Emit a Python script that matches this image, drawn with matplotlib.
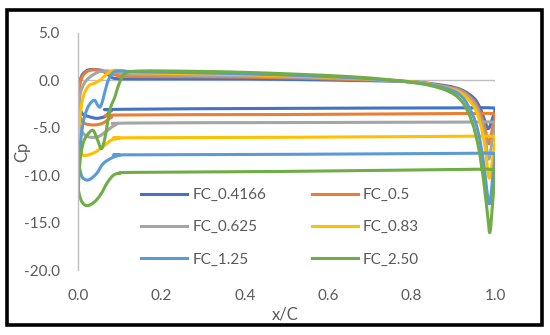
import matplotlib
matplotlib.use("Agg")
from matplotlib import pyplot as plt
from matplotlib.patches import Rectangle, PathPatch
from matplotlib.path import Path
from matplotlib.lines import Line2D
import numpy as np

# Cp distributions, each traced as one closed loop (upper surface LE -> TE, lower surface TE -> LE)
x_fc04166 = [0.002, 0.005, 0.012, 0.025, 0.04, 0.06, 0.075, 0.09, 0.15, 0.4, 0.65, 0.8, 0.88, 0.92,
             0.95, 0.965, 0.975, 0.984, 0.994, 1.0, 0.993, 0.9, 0.5, 0.1, 0.08, 0.065, 0.045, 0.025,
             0.01, 0.004, 0.002]
cp_fc04166 = [-1.0, 0.0, 0.7, 1.1, 1.15, 1.0, 0.5, 0.2, 0.15, 0.15, 0.0, -0.15, -0.55, -1.0,
              -1.9, -3.0, -4.2, -5.1, -4.0, -3.1, -2.9, -2.9, -2.95, -3.05, -3.2, -3.8, -4.0, -3.8,
              -3.5, -2.6, -1.0]

x_fc05 = [0.001, 0.004, 0.012, 0.025, 0.045, 0.07, 0.1, 0.15, 0.4, 0.65, 0.8, 0.88, 0.92, 0.95,
          0.965, 0.976, 0.985, 0.994, 1.0, 0.993, 0.9, 0.5, 0.1, 0.08, 0.06, 0.04, 0.02, 0.01,
          0.003, 0.001]
cp_fc05 = [-2.0, -0.5, 0.5, 1.0, 1.1, 0.8, 0.5, 0.4, 0.35, 0.1, -0.15, -0.65, -1.1, -2.2,
           -3.5, -5.0, -6.7, -5.0, -3.8, -3.5, -3.5, -3.6, -3.65, -3.9, -4.5, -4.7, -4.6, -4.3,
           -3.5, -2.0]

x_fc0625 = [0.001, 0.005, 0.015, 0.03, 0.05, 0.07, 0.1, 0.15, 0.4, 0.65, 0.8, 0.88, 0.92, 0.95,
            0.965, 0.976, 0.985, 0.994, 1.0, 0.993, 0.9, 0.5, 0.12, 0.09, 0.07, 0.05, 0.03, 0.015,
            0.005, 0.001]
cp_fc0625 = [-3.5, -1.5, -0.3, 0.4, 0.9, 1.0, 0.8, 0.6, 0.45, 0.2, -0.15, -0.7, -1.2, -2.4,
             -4.0, -6.0, -8.3, -6.2, -4.7, -4.4, -4.4, -4.45, -4.5, -4.7, -5.3, -5.9, -6.0, -5.7,
             -5.0, -3.5]

x_fc083 = [0.001, 0.004, 0.012, 0.025, 0.04, 0.055, 0.07, 0.085, 0.11, 0.15, 0.4, 0.65, 0.8,
           0.88, 0.92, 0.95, 0.965, 0.976, 0.986, 0.995, 1.0, 0.993, 0.9, 0.5, 0.12, 0.1, 0.08,
           0.06, 0.04, 0.02, 0.01, 0.004, 0.001]
cp_fc083 = [-5.5, -4.0, -1.8, -0.6, -0.3, 0.1, 0.7, 1.05, 1.0, 0.8, 0.6, 0.25, -0.15,
            -0.75, -1.4, -2.8, -4.6, -7.0, -10.3, -8.0, -6.2, -5.9, -5.9, -6.0, -6.05, -6.1, -6.3,
            -7.0, -7.6, -7.9, -7.8, -7.0, -5.5]

x_fc125 = [0.001, 0.005, 0.012, 0.022, 0.032, 0.04, 0.047, 0.053, 0.06, 0.07, 0.08, 0.095, 0.15,
           0.4, 0.65, 0.8, 0.88, 0.92, 0.945, 0.96, 0.972, 0.986, 0.995, 1.0, 0.993, 0.9, 0.5,
           0.12, 0.1, 0.08, 0.06, 0.045, 0.03, 0.02, 0.01, 0.004, 0.001]
cp_fc125 = [-8.5, -7.0, -4.5, -3.0, -2.3, -2.1, -2.6, -2.8, -2.0, -0.3, 0.6, 1.0, 0.9,
            0.7, 0.3, -0.2, -0.8, -1.7, -3.5, -5.5, -8.5, -13.0, -10.0, -8.0, -7.7, -7.7, -7.8,
            -7.85, -7.9, -8.2, -8.8, -9.8, -10.4, -10.5, -10.2, -9.3, -8.5]

x_fc250 = [0.001, 0.003, 0.008, 0.015, 0.027, 0.037, 0.047, 0.056, 0.064, 0.07, 0.078, 0.088,
           0.095, 0.102, 0.112, 0.13, 0.2, 0.4, 0.65, 0.8, 0.88, 0.92, 0.945, 0.961, 0.973, 0.983,
           0.988, 0.995, 1.0, 0.993, 0.9, 0.5, 0.14, 0.1, 0.085, 0.07, 0.055, 0.04, 0.025, 0.015,
           0.007, 0.002, 0.001]
cp_fc250 = [-11.5, -9.5, -7.5, -6.3, -5.5, -5.3, -6.3, -7.2, -6.2, -4.7, -2.9, -1.8,
            -0.8, 0.0, 0.7, 0.95, 1.0, 0.85, 0.4, -0.2, -1.0, -2.2, -4.4, -7.2, -10.7, -14.5,
            -16.0, -12.5, -9.8, -9.4, -9.4, -9.6, -9.7, -9.8, -10.0, -10.8, -12.0, -12.8, -13.2, -13.1,
            -12.6, -11.8, -11.5]

labels = ["FC_0.4166", "FC_0.5", "FC_0.625", "FC_0.83", "FC_1.25", "FC_2.50"]
colors = ["#4472C4", "#ED7D31", "#A5A5A5", "#FFC000", "#5B9BD5", "#70AD47"]
xs = [x_fc04166, x_fc05, x_fc0625, x_fc083, x_fc125, x_fc250]
cps = [cp_fc04166, cp_fc05, cp_fc0625, cp_fc083, cp_fc125, cp_fc250]
x_ticks = [0.0, 0.2, 0.4, 0.6, 0.8, 1.0]
y_ticks = [5.0, 0.0, -5.0, -10.0, -15.0, -20.0]


def smooth_path(ax, x, y):
    # Excel-like smoothed line: cubic Bezier segments through every point (Catmull-Rom),
    # control points computed in screen space, then mapped back to data space
    pts = ax.transData.transform(np.column_stack([x, y]))
    p = np.vstack([pts[0], pts, pts[-1]])
    verts = [pts[0]]
    codes = [Path.MOVETO]
    for i in range(1, len(p) - 2):
        c1 = p[i] + (p[i + 1] - p[i - 1]) / 6
        c2 = p[i + 1] - (p[i + 2] - p[i]) / 6
        verts += [c1, c2, p[i + 1]]
        codes += [Path.CURVE4] * 3
    verts = ax.transData.inverted().transform(np.array(verts))
    return Path(verts, codes)


def main():
    plt.rcParams["font.family"] = ["Lato", "DejaVu Sans"]
    fig = plt.figure(figsize=(5.5, 3.35), dpi=100)
    ax = fig.add_axes([78 / 550, 1 - 270 / 335, 417 / 550, 237 / 335])
    ax.set_xlim(0, 1.0)
    ax.set_ylim(-20, 5)

    ax.axhline(0, color="#BFBFBF", lw=1.0, zorder=1)
    handles = []
    for x, cp, c, lab in zip(xs, cps, colors, labels):
        ax.add_patch(PathPatch(smooth_path(ax, x, cp), fill=False, ec=c, lw=2.2,
                               joinstyle="round", capstyle="round", zorder=2))
        handles.append(Line2D([], [], color=c, lw=2.2, label=lab))

    ax.set_xticks(x_ticks)
    ax.set_xticklabels([f"{v:.1f}" for v in x_ticks])
    ax.set_yticks(y_ticks)
    ax.set_yticklabels([f"{v:.1f}" for v in y_ticks])
    ax.tick_params(axis="both", length=0, labelsize=11, labelcolor="#595959")
    ax.tick_params(axis="y", pad=13)
    ax.tick_params(axis="x", pad=13.5)
    for s in ["top", "right", "bottom"]:
        ax.spines[s].set_visible(False)
    ax.spines["left"].set_color("#BFBFBF")
    ax.spines["left"].set_linewidth(1.0)

    fig.text(285 / 550, 1 - 315 / 335, "x/C", ha="center", va="center",
             fontsize=12, color="#595959")
    fig.text(22 / 550, 1 - 152 / 335, "Cp", ha="center", va="center",
             fontsize=12, color="#595959", rotation=90)

    # legend fills row by row in the reference: reorder for matplotlib's column filling
    order = [0, 2, 4, 1, 3, 5]
    ax.legend([handles[i] for i in order], [labels[i] for i in order],
              loc="upper left", bbox_to_anchor=(141 / 550, 1 - 188 / 335),
              bbox_transform=fig.transFigure, ncol=2, frameon=False, fontsize=11,
              handlelength=3.0, handletextpad=0.35, columnspacing=3.0,
              labelspacing=1.2, borderpad=0, borderaxespad=0, labelcolor="#595959")

    fig.patches.append(Rectangle((6.5 / 550, 1 - 325 / 335), 535 / 550, 315.5 / 335,
                                 transform=fig.transFigure, fill=False, ec="black", lw=2.6))

    fig.savefig("out.png", dpi=100)


if __name__ == "__main__":
    main()
